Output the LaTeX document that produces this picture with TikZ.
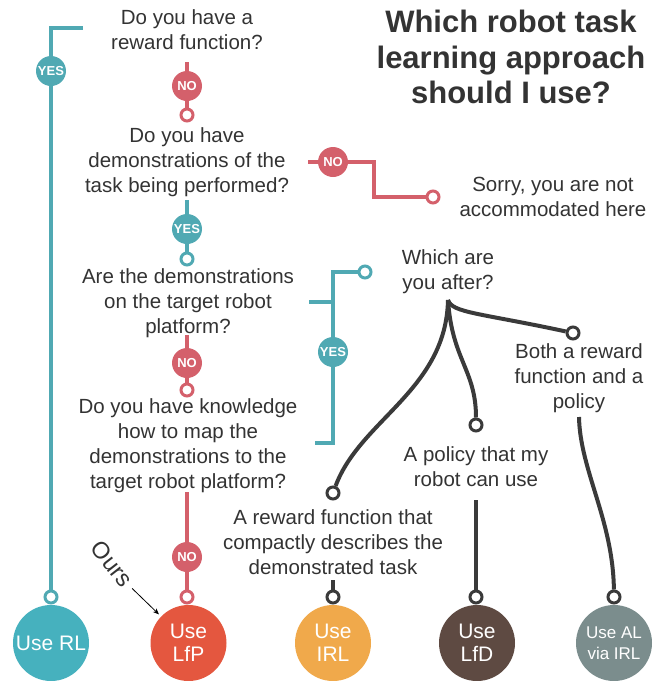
\documentclass[tikz,border=0pt]{standalone}
\usepackage{fontspec}
\setmainfont{Liberation Sans}
\usetikzlibrary{arrows.meta}

\definecolor{ink}{HTML}{333333}
\definecolor{tealc}{HTML}{50A9B3}
\definecolor{rosec}{HTML}{D4606B}
\definecolor{darkc}{HTML}{3A3A3A}
\definecolor{rlcol}{HTML}{46B1BE}
\definecolor{lfpcol}{HTML}{E4573F}
\definecolor{irlcol}{HTML}{F0A94B}
\definecolor{lfdcol}{HTML}{5E4A42}
\definecolor{alcol}{HTML}{7B8D8D}

\tikzset{
  question/.style={align=center, font=\fontsize{20.5}{25}\selectfont, text=ink, inner sep=0pt},
  badge/.style={circle, minimum size=30pt, inner sep=0pt, text=white,
    font=\fontsize{13}{13}\selectfont\bfseries},
  yesbadge/.style={badge, fill=tealc},
  nobadge/.style={badge, fill=rosec},
  ring/.style={circle, minimum size=12pt, inner sep=0pt, draw, line width=3pt, fill=white},
  outcome/.style={circle, minimum size=76pt, inner sep=0pt, align=center, text=white,
    font=\fontsize{21}{23}\selectfont},
  tealline/.style={draw=tealc, line width=3.5pt},
  roseline/.style={draw=rosec, line width=3.5pt},
  darkline/.style={draw=darkc, line width=4pt},
}

\begin{document}
\begin{tikzpicture}[x=1pt, y=-1pt]
\useasboundingbox (0,0) rectangle (661,681);

% title
\node[font=\fontsize{31}{35.5}\selectfont\bfseries, align=center, text=ink] (title)
  at (511,57) {Which robot task\\learning approach\\should I use?};

% ---- left YES branch: reward function available -> RL
\node[ring, draw=tealc] (rRL) at (51,597) {};
\node[outcome, fill=rlcol] (RL) at (51,643) {Use RL};
\coordinate (tl) at (51,28);
\coordinate (tr) at (83,28);
\node[yesbadge] (yes1) at (51,71) {YES};
\draw[tealline] (rRL) -- (yes1);
\draw[tealline] (yes1) -- (tl) -- (tr);

% ---- question 1
\node[question] (q1) at (187,30) {Do you have a\\reward function?};
\coordinate (n1top) at (187,62);
\node[nobadge] (no1) at (187,86) {NO};
\node[ring, draw=rosec] (r1) at (187,115) {};
\draw[roseline] (n1top) -- (no1);
\draw[roseline] (no1) -- (r1);

% ---- question 2
\node[question] (q2) at (187,162) {Do you have\\demonstrations of the\\task being performed?};
\coordinate (n2l) at (308,162);
\node[nobadge] (no2) at (333,162) {NO};
\coordinate (n2a) at (374,162);
\coordinate (n2b) at (374,197);
\node[ring, draw=rosec] (r2) at (433,197) {};
\draw[roseline] (n2l) -- (no2);
\draw[roseline] (no2) -- (n2a) -- (n2b) -- (r2);
\node[question] (sorry) at (553,197) {Sorry, you are not\\accommodated here};

\coordinate (y2top) at (187,200);
\node[yesbadge] (yes2) at (187,229) {YES};
\node[ring, draw=tealc] (r3) at (187,259) {};
\draw[tealline] (y2top) -- (yes2);
\draw[tealline] (yes2) -- (r3);

% ---- question 3
\node[question] (q3) at (188,303) {Are the demonstrations\\on the target robot\\platform?};
\coordinate (n3top) at (187,335);
\node[nobadge] (no3) at (187,363) {NO};
\node[ring, draw=rosec] (r4) at (187,390) {};
\draw[roseline] (n3top) -- (no3);
\draw[roseline] (no3) -- (r4);

% ---- question 4
\node[question] (q4) at (188,446) {Do you have knowledge\\how to map the\\demonstrations to the\\target robot platform?};
\coordinate (n4top) at (187,492);
\node[nobadge] (no4) at (187,557) {NO};
\node[ring, draw=rosec] (r5) at (187,597) {};
\node[outcome, fill=lfpcol] (LfP) at (188.5,643) {Use\\LfP};
\draw[roseline] (n4top) -- (no4);
\draw[roseline] (no4) -- (r5);

% marker for our method
\node[font=\fontsize{23.5}{25}\selectfont, text=ink, rotate=-52, inner sep=0pt] (ours) at (112,564) {Ours};
\draw[-{Stealth[length=6pt,width=5pt]}, line width=0.8pt, black, shorten <=6pt, shorten >=3pt] (ours.east) -- (LfP);

% ---- right YES bracket
\node[ring, draw=tealc] (r6) at (365,272) {};
\coordinate (b1) at (333,272);
\coordinate (s1) at (309,302);
\coordinate (j1) at (333,302);
\coordinate (b2) at (333,443);
\coordinate (s2) at (315,443);
\node[yesbadge] (yes3) at (333,352) {YES};
\draw[tealline] (s1) -- (j1);
\draw[tealline] (yes3) -- (b1) -- (r6);
\draw[tealline] (yes3) -- (b2) -- (s2);

% ---- which are you after?
\node[question] (after) at (448,272) {Which are\\you after?};
\coordinate (root) at (448,300);
\node[ring, draw=darkc] (rB) at (573,333) {};
\node[ring, draw=darkc] (rP) at (476,425) {};
\node[ring, draw=darkc] (rR) at (333,493) {};
\draw[darkline] (root) .. controls (452,313) and (480,313) .. (rB);
\draw[darkline] (root) .. controls (452,360) and (476,370) .. (rP);
\draw[darkline] (root) .. controls (446,390) and (360,420) .. (rR);

\node[question] (both) at (579,378) {Both a reward\\function and a\\policy};
\node[question] (policy) at (476,467) {A policy that my\\robot can use};
\node[question] (reward) at (333,542) {A reward function that\\compactly describes the\\demonstrated task};

% ---- outcomes
\coordinate (sR) at (333,580);
\coordinate (sP) at (476,500);
\coordinate (sB) at (579,417);
\node[ring, draw=darkc] (rIRL) at (333,597) {};
\node[ring, draw=darkc] (rLfD) at (476,597) {};
\node[ring, draw=darkc] (rAL) at (614,597) {};
\draw[darkline] (sR) -- (rIRL);
\draw[darkline] (sP) -- (rLfD);
\draw[darkline] (sB) .. controls (580,470) and (613,520) .. (rAL);

\node[outcome, fill=irlcol] (IRL) at (333,643) {Use\\IRL};
\node[outcome, fill=lfdcol] (LfD) at (477,643) {Use\\LfD};
\node[outcome, fill=alcol, font=\fontsize{17}{21.5}\selectfont] (AL) at (614,643) {Use AL\\via IRL};
\end{tikzpicture}
\end{document}
